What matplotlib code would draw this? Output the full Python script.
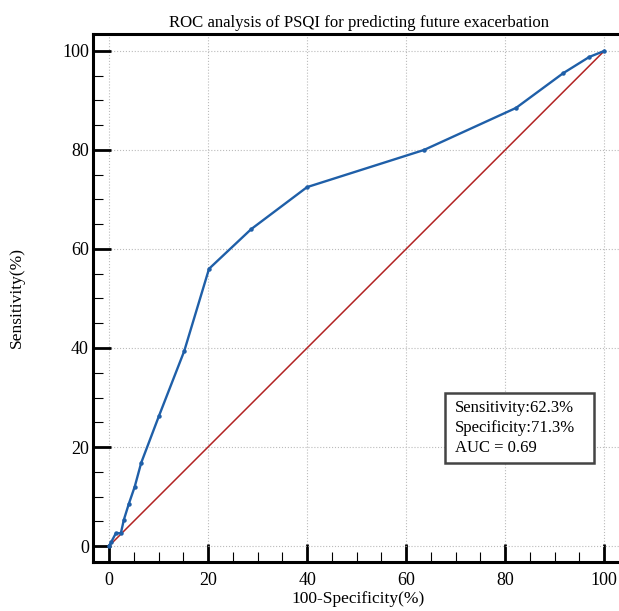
import matplotlib
matplotlib.use("Agg")
from matplotlib import pyplot as plt
from matplotlib.ticker import MultipleLocator
from matplotlib.patches import Rectangle

plt.rcParams['font.family'] = ['Liberation Serif', 'DejaVu Serif']

# ROC 曲线点 (100-Specificity, Sensitivity)
fpr = [0, 0.5, 1.4, 2.4, 3.0, 4.0, 5.2, 6.5, 10.1, 15.2, 20.2, 28.7, 40.0, 63.6, 82.2, 91.7, 97.0, 100]
tpr = [0, 0.9, 2.6, 2.6, 5.3, 8.5, 12.0, 16.8, 26.3, 39.4, 56.0, 64.0, 72.5, 80.0, 88.5, 95.5, 98.8, 100]
ref = [0, 100]
xticks = [0, 20, 40, 60, 80, 100]
yticks = [0, 20, 40, 60, 80, 100]
note = "Sensitivity:62.3%\nSpecificity:71.3%\nAUC = 0.69"

fig = plt.figure(figsize=(6.19, 6.11), dpi=100)
ax = fig.add_axes([93/619, 49/611, 531/619, 528/611])

ax.plot(ref, ref, color='#b22222', lw=1.1, zorder=2)
ax.plot(fpr, tpr, color='#1f5fa8', lw=1.7, marker='o', ms=2.2, zorder=3)

ax.set_xlim(-3.23, 104)
ax.set_ylim(-3.23, 103.43)
ax.set_xticks(xticks)
ax.set_yticks(yticks)
ax.xaxis.set_minor_locator(MultipleLocator(5))
ax.yaxis.set_minor_locator(MultipleLocator(5))
ax.tick_params(which='major', direction='in', length=13, width=2, labelsize=13)
ax.tick_params(axis='x', which='major', pad=7.5)
ax.tick_params(axis='y', which='major', pad=3)
ax.tick_params(which='minor', direction='in', length=7, width=0.8)
ax.tick_params(top=False, right=False)
for s in ax.spines.values():
    s.set_linewidth(2.2)
ax.spines['right'].set_visible(False)
ax.grid(True, which='major', ls=':', color='#bbbbbb', lw=0.8)

ax.set_title("ROC analysis of PSQI for predicting future exacerbation", fontsize=12.1, pad=5)
ax.set_xlabel("100-Specificity(%)", fontsize=12.5, labelpad=1)
ax.set_ylabel("Sensitivity(%)", fontsize=12.5, labelpad=27)

# 注释框
box = Rectangle((445/619, (611-463)/611), 149/619, 70/611, transform=fig.transFigure,
                fc='white', ec='#444444', lw=1.8, zorder=4)
fig.patches.append(box)
fig.text(455/619, (611-428)/611, note, fontsize=12, va='center', ha='left',
         linespacing=1.3, zorder=5)

plt.savefig("out.png", dpi=100)
